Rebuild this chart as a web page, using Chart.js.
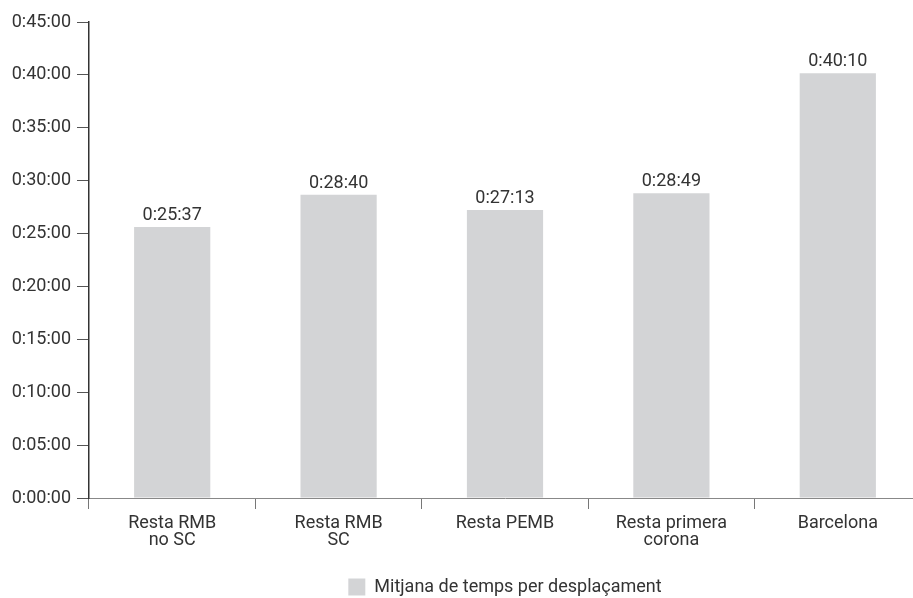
<!DOCTYPE html>
<html>
<head>
<meta charset="utf-8">
<script src="https://cdn.jsdelivr.net/npm/chart.js@4/dist/chart.umd.min.js"></script>
<style>
  html, body { margin: 0; padding: 0; background: #fff; overflow: hidden; }
  #wrap { width: 921px; height: 598px; }
</style>
</head>
<body>
<div id="wrap"><canvas id="timeChart"></canvas></div>
<script>
// Chart data (values in seconds)
const categories = [['Resta RMB', 'no SC'], ['Resta RMB', 'SC'], 'Resta PEMB', ['Resta primera', 'corona'], 'Barcelona'];
const seriesLabel = 'Mitjana de temps per desplaçament';
const avgSeconds = [1537, 1720, 1633, 1729, 2410];
const yTicks = [0, 300, 600, 900, 1200, 1500, 1800, 2100, 2400, 2700];

function fmtTime(sec) {
    const h = Math.floor(sec / 3600);
    const m = Math.floor((sec % 3600) / 60);
    const s = sec % 60;
    return h + ':' + String(m).padStart(2, '0') + ':' + String(s).padStart(2, '0');
}

// draw the value above each bar
const valueLabels = {
    id: 'valueLabels',
    afterDatasetsDraw(chart) {
        const ctx = chart.ctx;
        const meta = chart.getDatasetMeta(0);
        ctx.save();
        ctx.font = '18px Roboto';
        ctx.fillStyle = '#333';
        ctx.textAlign = 'center';
        ctx.textBaseline = 'alphabetic';
        meta.data.forEach(function(bar, i) {
            ctx.fillText(fmtTime(chart.data.datasets[0].data[i]), bar.x, bar.y - 7);
        });
        ctx.restore();
    }
};

const ctx = document.getElementById('timeChart').getContext('2d');
const timeChart = new Chart(ctx, {
    type: 'bar',
    data: {
        labels: categories,
        datasets: [{
            label: seriesLabel,
            data: avgSeconds,
            backgroundColor: '#d3d4d6',
            borderWidth: 0,
            categoryPercentage: 1,
            barPercentage: 0.458
        }]
    },
    options: {
        responsive: true,
        maintainAspectRatio: false,
        animation: false,
        layout: { padding: { top: 22, right: 0, bottom: -8, left: 0 } },
        plugins: {
            legend: {
                position: 'bottom',
                fullSize: false,
                labels: {
                    boxWidth: 17,
                    boxHeight: 17,
                    padding: 3,
                    color: '#333',
                    font: { family: 'Roboto', size: 18 }
                }
            },
            tooltip: { enabled: false }
        },
        scales: {
            x: {
                grid: {
                    drawOnChartArea: false,
                    drawTicks: true,
                    tickLength: 11,
                    color: '#777',
                    offset: true
                },
                border: { color: '#888', width: 1 },
                ticks: {
                    color: '#333',
                    padding: 6,
                    maxRotation: 0,
                    font: { family: 'Roboto', size: 18, lineHeight: 0.95 }
                },
                afterFit: function(scale) { scale.height = 77; }
            },
            y: {
                min: 0,
                max: 2700,
                afterBuildTicks: function(scale) {
                    scale.ticks = yTicks.map(function(v) { return { value: v }; });
                },
                grid: {
                    drawOnChartArea: false,
                    drawTicks: true,
                    tickLength: 12,
                    color: '#555'
                },
                border: { color: '#333', width: 1.5 },
                ticks: {
                    color: '#333',
                    padding: 6,
                    font: { family: 'Roboto', size: 18 },
                    callback: function(value) { return fmtTime(value); }
                },
                afterFit: function(scale) { scale.width = 89; }
            }
        }
    },
    plugins: [valueLabels]
});
</script>
</body>
</html>
